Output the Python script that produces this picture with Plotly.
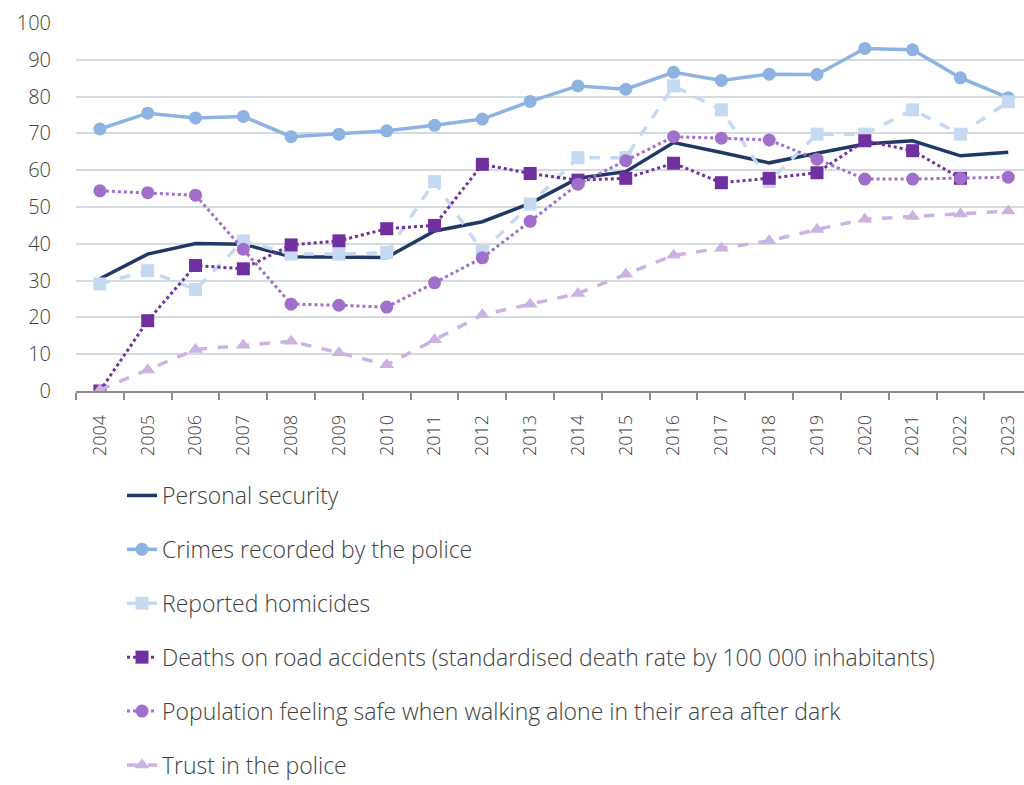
import plotly.graph_objects as go

years = [str(y) for y in range(2004, 2024)]

personal_security = [30.5, 37.2, 40.1, 39.9, 36.5, 36.5, 36.3, 43.5, 46.0, 51.0,
                     57.8, 59.6, 67.5, 64.8, 62.0, 64.6, 67.1, 68.0, 63.9, 64.9]
crimes_police = [71.2, 75.5, 74.2, 74.6, 69.1, 69.8, 70.7, 72.2, 73.9, 78.7,
                 82.9, 82.0, 86.6, 84.4, 86.1, 86.0, 93.1, 92.7, 85.1, 79.7]
homicides = [29.1, 32.7, 27.6, 40.8, 37.2, 37.2, 37.6, 56.9, 37.9, 50.8,
             63.4, 63.4, 82.9, 76.4, 56.9, 69.8, 69.8, 76.4, 69.8, 78.6]
road_deaths = [0.0, 19.1, 34.1, 33.2, 39.7, 40.8, 44.1, 45.0, 61.6, 59.1,
               57.3, 57.8, 61.9, 56.6, 57.8, 59.3, 68.0, 65.3, 57.8, None]
feeling_safe = [54.4, 53.9, 53.2, 38.5, 23.6, 23.3, 22.8, 29.4, 36.2, 46.1,
                56.2, 62.6, 69.1, 68.7, 68.2, 63.0, 57.6, 57.6, 57.8, 58.1]
trust_police = [0.3, 5.7, 11.3, 12.4, 13.5, 10.4, 7.1, 13.9, 20.7, 23.6,
                26.5, 31.7, 36.9, 38.8, 40.8, 43.9, 46.7, 47.4, 48.1, 48.9]

y_ticks = [0, 10, 20, 30, 40, 50, 60, 70, 80, 90, 100]

series = [
    ("Personal security", personal_security, "#1F3864", "solid", None, 3.5),
    ("Crimes recorded by the police", crimes_police, "#8DB3E2", "solid", "circle", 3.5),
    ("Reported homicides", homicides, "#C5D9F1", "dash", "square", 3.5),
    ("Deaths on road accidents (standardised death rate by 100 000 inhabitants)", road_deaths, "#7030A0", "dot", "square", 3),
    ("Population feeling safe when walking alone in their area after dark", feeling_safe, "#A06FCB", "dot", "circle", 3),
    ("Trust in the police", trust_police, "#CBB2E0", "dash", "triangle-up", 3.5),
]

fig = go.Figure()
for i, (name, vals, color, dash, symbol, lw) in enumerate(series):
    fig.add_trace(go.Scatter(
        x=years, y=vals, name=name,
        mode="lines+markers" if symbol else "lines",
        line=dict(color=color, width=lw, dash=dash),
        marker=dict(symbol=symbol or "circle", size=13, color=color),
        legendgroup=f"g{i}",
        connectgaps=False,
    ))

W, H = 1024, 785
L, R, T, B = 76, 0, 23, 394
plot_w = W - L - R
plot_h = H - T - B

fig.update_layout(
    width=W, height=H,
    margin=dict(l=L, r=R, t=T, b=B, autoexpand=False),
    paper_bgcolor="white", plot_bgcolor="white",
    font=dict(family="Open Sans, sans-serif", color="#404040", weight=300),
    showlegend=True,
    legend=dict(
        x=(122 - L) / plot_w, xanchor="left",
        y=(391 - 474) / plot_h, yanchor="top",
        orientation="v",
        font=dict(size=23, color="#404040", weight=300),
        tracegroupgap=21,
        bgcolor="rgba(0,0,0,0)",
    ),
)

fig.update_xaxes(
    type="category",
    range=[-0.5, 19.33],
    tickangle=-90,
    tickfont=dict(size=18, color="#404040", weight=300),
    ticklabelstandoff=15,
    showgrid=False,
    showline=True, linecolor="#8C8C8C", linewidth=1.5,
    ticks="outside", tickson="boundaries", ticklen=7, tickcolor="#8C8C8C", tickwidth=1.5,
    zeroline=False,
)
fig.update_yaxes(
    range=[0, 100],
    tickvals=y_ticks,
    tickfont=dict(size=20, color="#404040", weight=300),
    showgrid=True, gridcolor="#D5D9E0", gridwidth=1.5,
    zeroline=False, showline=False,
    ticks="", ticklabelstandoff=24,
)

fig.write_html("out.html")
